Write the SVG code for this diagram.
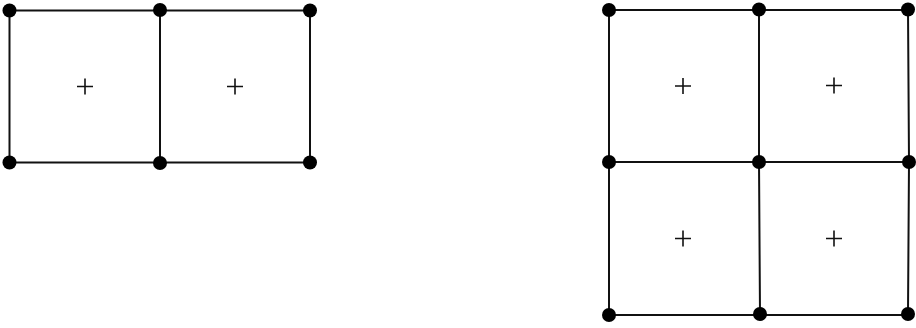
<svg xmlns="http://www.w3.org/2000/svg" width="916" height="328" viewBox="0 0 916 328">
<style>
.e{stroke:#111;stroke-width:2;fill:none}
.p{stroke:#111;stroke-width:1.6;fill:none}
.d{fill:#000}
</style>
<defs>
<path id="plus" class="p" d="M-8,0H8M0,-8V8"/>
</defs>
<rect width="916" height="328" fill="#fff"/>
<g id="connectors">
<path class="e" d="M9.5,10.5H160H310M9.5,162.5H160H310M9.5,10.5V162.5M160,10V163M310,10.5V162.5"/>
<path class="e" d="M609,10H759H908M609,162H759H909M609,315H760H908M609,10V315M759,9.5V162L760,314M908,9.5L909,162L908,314"/>
</g>
<g id="left-grid">
<g id="L1"><circle class="d" cx="9.5" cy="10.5" r="7"/></g>
<g id="L2"><circle class="d" cx="160" cy="10" r="7"/></g>
<g id="L3"><circle class="d" cx="310" cy="10.5" r="7"/></g>
<g id="L4"><circle class="d" cx="9.5" cy="162.5" r="7"/></g>
<g id="L5"><circle class="d" cx="160" cy="163" r="7"/></g>
<g id="L6"><circle class="d" cx="310" cy="162.5" r="7"/></g>
<use href="#plus" x="85" y="86.5"/>
<use href="#plus" x="235" y="86.5"/>
</g>
<g id="right-grid">
<g id="R1"><circle class="d" cx="609" cy="10" r="7"/></g>
<g id="R2"><circle class="d" cx="759" cy="9.5" r="7"/></g>
<g id="R3"><circle class="d" cx="908" cy="9.5" r="7"/></g>
<g id="R4"><circle class="d" cx="609" cy="162" r="7"/></g>
<g id="R5"><circle class="d" cx="759" cy="162" r="7"/></g>
<g id="R6"><circle class="d" cx="909" cy="162" r="7"/></g>
<g id="R7"><circle class="d" cx="609" cy="315" r="7"/></g>
<g id="R8"><circle class="d" cx="760" cy="314" r="7"/></g>
<g id="R9"><circle class="d" cx="908" cy="314" r="7"/></g>
<use href="#plus" x="683" y="86"/>
<use href="#plus" x="834" y="85.5"/>
<use href="#plus" x="683" y="238.5"/>
<use href="#plus" x="834" y="238.5"/>
</g>
</svg>
